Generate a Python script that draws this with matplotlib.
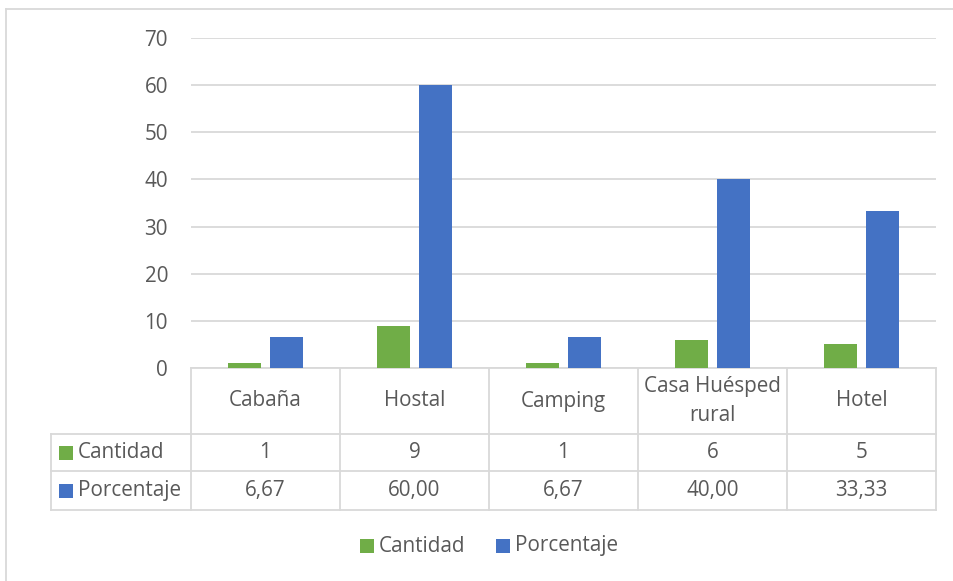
import matplotlib
matplotlib.use("Agg")
import matplotlib.pyplot as plt
from matplotlib.lines import Line2D
from matplotlib.patches import Rectangle

categories = ["Cabaña", "Hostal", "Camping", "Casa Huésped\nrural", "Hotel"]
cantidad = [1, 9, 1, 6, 5]
porcentaje = [6.67, 60.00, 6.67, 40.00, 33.33]
cantidad_labels = ["1", "9", "1", "6", "5"]
porcentaje_labels = ["6,67", "60,00", "6,67", "40,00", "33,33"]
yticks = [0, 10, 20, 30, 40, 50, 60, 70]
series_names = ["Cantidad", "Porcentaje"]

W, H = 954, 581
GREEN = "#70ad47"
BLUE = "#4472c4"
GRID = "#d9d9d9"
TXT = "#595959"
FONT = ["Open Sans", "DejaVu Sans"]
FS = 14.9

plt.rcParams["font.family"] = FONT
fig = plt.figure(figsize=(W / 100, H / 100), dpi=100)
fig.patch.set_facecolor("white")

def fx(px):
    return px / W

def fy(py):
    return 1 - py / H

# plot area
left, right, top, bottom = 191, 936, 38, 368
ax = fig.add_axes([fx(left), fy(bottom), fx(right) - fx(left), fy(top) - fy(bottom)])
ax.set_xlim(-0.5, len(categories) - 0.5)
ax.set_ylim(0, 70)
x = list(range(len(categories)))
bw = 0.222
off = 0.143
ax.bar([i - off for i in x], cantidad, width=bw, color=GREEN, zorder=3)
ax.bar([i + off for i in x], porcentaje, width=bw, color=BLUE, zorder=3)
ax.set_yticks(yticks)
ax.set_yticklabels([str(t) for t in yticks], color=TXT, fontsize=FS)
ax.tick_params(axis="y", length=0, pad=16.5)
ax.set_xticks([])
ax.grid(axis="y", color=GRID, linewidth=1.3, zorder=0)
for s in ["top", "right", "left"]:
    ax.spines[s].set_visible(False)
ax.spines["bottom"].set_color(GRID)
ax.spines["bottom"].set_linewidth(1.3)
ax.set_facecolor("white")

# data table
def hline(y, x0, x1):
    fig.add_artist(Line2D([fx(x0), fx(x1)], [fy(y), fy(y)], color=GRID, lw=1.3))

def vline(xp, y0, y1):
    fig.add_artist(Line2D([fx(xp), fx(xp)], [fy(y0), fy(y1)], color=GRID, lw=1.3))

col_w = (right - left) / len(categories)
row_header = (368, 434)
row1 = (434, 471)
row2 = (471, 510)
tab_left = 51

hline(row1[0], tab_left, right)
hline(row2[0], tab_left, right)
hline(row2[1], tab_left, right)
for i in range(len(categories) + 1):
    vline(left + i * col_w, row_header[0], row2[1])
vline(tab_left, row1[0], row2[1])

for i, c in enumerate(categories):
    cx = fx(left + (i + 0.5) * col_w)
    fig.text(cx, fy((row_header[0] + row_header[1]) / 2), c, ha="center", va="center",
             color=TXT, fontsize=FS, linespacing=1.5)
    fig.text(cx, fy((row1[0] + row1[1]) / 2), cantidad_labels[i], ha="center", va="center",
             color=TXT, fontsize=FS)
    fig.text(cx, fy((row2[0] + row2[1]) / 2), porcentaje_labels[i], ha="center", va="center",
             color=TXT, fontsize=FS)

# row labels with keys
for (r, name, col) in [(row1, series_names[0], GREEN), (row2, series_names[1], BLUE)]:
    cy = (r[0] + r[1]) / 2
    fig.add_artist(Rectangle((fx(59), fy(cy + 7)), fx(14), fy(cy - 7) - fy(cy + 7),
                             facecolor=col, edgecolor="none"))
    fig.text(fx(78), fy(cy), name, ha="left", va="center", color=TXT, fontsize=FS)

# legend
ly = 546
for (x0, name, col) in [(360, series_names[0], GREEN), (496, series_names[1], BLUE)]:
    fig.add_artist(Rectangle((fx(x0), fy(ly + 7)), fx(14), fy(ly - 7) - fy(ly + 7),
                             facecolor=col, edgecolor="none"))
    fig.text(fx(x0 + 19), fy(ly), name, ha="left", va="center", color=TXT, fontsize=FS)

# chart border (left and top)
fig.add_artist(Line2D([fx(6), fx(6)], [fy(9), fy(H)], color=GRID, lw=1.3))
fig.add_artist(Line2D([fx(6), fx(W)], [fy(9), fy(9)], color=GRID, lw=1.3))

fig.savefig("out.png", dpi=100, facecolor="white")
